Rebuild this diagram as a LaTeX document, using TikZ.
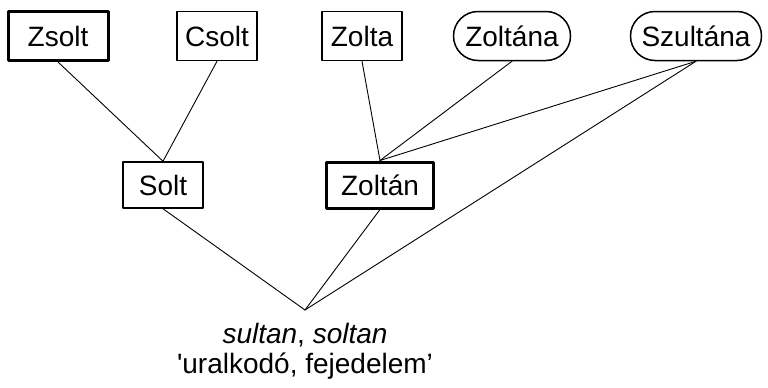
\documentclass[tikz,border=0pt]{standalone}
\usepackage{fontspec}
\setmainfont{Liberation Sans}
\usetikzlibrary{positioning, shapes.misc}
\tikzset{
    every node/.style={font=\fontsize{28}{30}\selectfont},
    every path/.style={line cap=round, line join=round},
    namebox/.style={draw, line width=1.5pt, minimum height=49pt, inner sep=0pt},
    mainbox/.style={namebox, line width=3pt},
    roundbox/.style={namebox, rounded rectangle},
    link/.style={line width=0.9pt}
}

\begin{document}
\begin{tikzpicture}[x=1pt, y=-1pt]
    \useasboundingbox (0,0) rectangle (768,388);
    % top row
    \node [mainbox, minimum width=100pt] (zsolt) at (58,36) {Zsolt};
    \node [namebox, minimum width=80pt] (csolt) at (217,36) {Csolt};
    \node [namebox, minimum width=80pt] (zolta) at (362,36) {Zolta};
    \node [roundbox, minimum width=117pt] (zoltana) at (512,36) {Zoltána};
    \node [roundbox, minimum width=131pt] (szultana) at (696,36) {Szultána};
    % middle row
    \node [namebox, minimum width=80pt, minimum height=46pt] (solt) at (163,185) {Solt};
    \node [mainbox, minimum width=107pt, minimum height=46pt] (zoltan) at (380,185) {Zoltán};
    % origin
    \coordinate (root) at (305,310);
    \node [align=center, below=10pt of root] (origin) {\textit{sultan}, \textit{soltan}\\\textquotesingle uralkodó, fejedelem’};
    % links
    \draw [link] (zsolt.south) -- (solt.north);
    \draw [link] (csolt.south) -- (solt.north);
    \draw [link] (zolta.south) -- (zoltan.north);
    \draw [link] (zoltana.south) -- (zoltan.north);
    \draw [link] (szultana.south) -- (zoltan.north);
    \draw [link] (solt.south) -- (root);
    \draw [link] (zoltan.south) -- (root);
    \draw [link] (szultana.south) -- (root);
\end{tikzpicture}
\end{document}
